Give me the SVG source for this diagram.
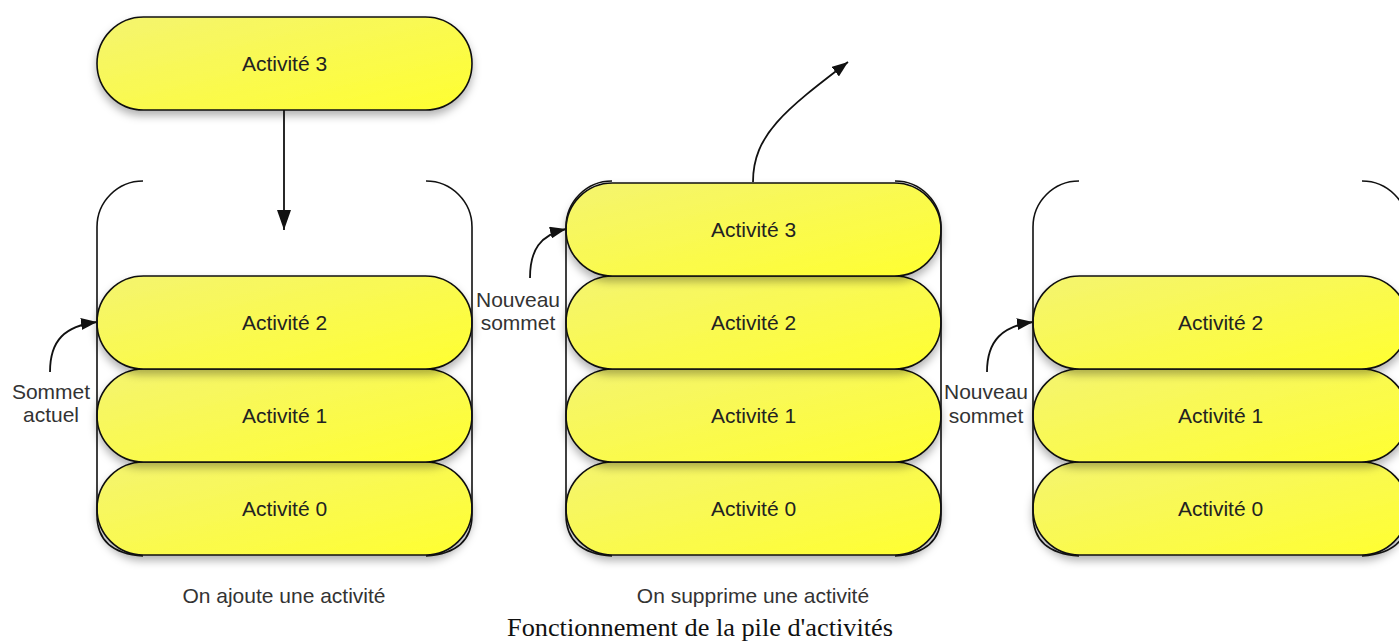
<svg xmlns="http://www.w3.org/2000/svg" width="1399" height="641" viewBox="0 0 1399 641">
<style>
.pill{fill:url(#yg);stroke:#111;stroke-width:1.6;filter:url(#sh)}
.pt{font-family:"Liberation Sans",Arial,sans-serif;font-size:21px;fill:#222;text-anchor:middle}
.lbl{font-family:"Liberation Sans",Arial,sans-serif;font-size:21px;fill:#333;text-anchor:middle}
.br{fill:none;stroke:#111;stroke-width:1.6}
.ar{fill:none;stroke:#111;stroke-width:1.8}
.cap{font-family:"Liberation Serif","Times New Roman",serif;font-size:25px;fill:#111;text-anchor:middle}
</style>
<defs>
<linearGradient id="yg" x1="0" y1="0" x2="1" y2="1">
<stop offset="0" stop-color="#f4f470"/>
<stop offset="1" stop-color="#ffff30"/>
</linearGradient>
<filter id="sh" x="-10%" y="-20%" width="120%" height="150%">
<feDropShadow dx="0" dy="5" stdDeviation="4" flood-color="#000" flood-opacity="0.3"/>
</filter>
<marker id="ah" markerWidth="20" markerHeight="14" refX="20" refY="7" orient="auto" markerUnits="userSpaceOnUse">
<path d="M0,0 L20,7 L0,14 Z" fill="#111"/>
</marker>
<marker id="ahs" markerWidth="16" markerHeight="12" refX="16" refY="6" orient="auto" markerUnits="userSpaceOnUse">
<path d="M0,0 L16,6 L0,12 Z" fill="#111"/>
</marker>
</defs>
<rect width="1399" height="641" fill="#fff"/>

<g id="top-act3"><rect class="pill" x="97" y="17" width="375" height="93" rx="46.5"/><text class="pt" x="284.5" y="71">Activité 3</text></g>

<g id="stack1">
<g id="s1-act0"><rect class="pill" x="97" y="462" width="375" height="93" rx="46.5"/><text class="pt" x="284.5" y="516">Activité 0</text></g>
<g id="s1-act1"><rect class="pill" x="97" y="369" width="375" height="93" rx="46.5"/><text class="pt" x="284.5" y="423">Activité 1</text></g>
<g id="s1-act2"><rect class="pill" x="97" y="276" width="375" height="93" rx="46.5"/><text class="pt" x="284.5" y="330">Activité 2</text></g>
<path class="br" d="M143,181 A46,46 0 0 0 97,227 L97,515 Q97,553 143,556"/>
<path class="br" d="M426,181 A46,46 0 0 1 472,227 L472,515 Q472,553 426,556"/>
</g>

<g id="stack2">
<g id="s2-act0"><rect class="pill" x="566" y="462" width="375" height="93" rx="46.5"/><text class="pt" x="753.5" y="516">Activité 0</text></g>
<g id="s2-act1"><rect class="pill" x="566" y="369" width="375" height="93" rx="46.5"/><text class="pt" x="753.5" y="423">Activité 1</text></g>
<g id="s2-act2"><rect class="pill" x="566" y="276" width="375" height="93" rx="46.5"/><text class="pt" x="753.5" y="330">Activité 2</text></g>
<g id="s2-act3"><rect class="pill" x="566" y="183" width="375" height="93" rx="46.5"/><text class="pt" x="753.5" y="237">Activité 3</text></g>
<path class="br" d="M612,181 A46,46 0 0 0 566,227 L566,515 Q566,553 612,556"/>
<path class="br" d="M895,181 A46,46 0 0 1 941,227 L941,515 Q941,553 895,556"/>
</g>

<g id="stack3">
<g id="s3-act0"><rect class="pill" x="1033" y="462" width="375" height="93" rx="46.5"/><text class="pt" x="1220.5" y="516">Activité 0</text></g>
<g id="s3-act1"><rect class="pill" x="1033" y="369" width="375" height="93" rx="46.5"/><text class="pt" x="1220.5" y="423">Activité 1</text></g>
<g id="s3-act2"><rect class="pill" x="1033" y="276" width="375" height="93" rx="46.5"/><text class="pt" x="1220.5" y="330">Activité 2</text></g>
<path class="br" d="M1079,181 A46,46 0 0 0 1033,227 L1033,515 Q1033,553 1079,556"/>
<path class="br" d="M1362,181 A46,46 0 0 1 1408,227 L1408,515 Q1408,553 1362,556"/>
</g>

<g id="connectors">
<path class="ar" d="M284,110 L284,230" marker-end="url(#ah)"/>
<path class="ar" d="M753,182 C753,135 785,110 848,62" marker-end="url(#ahs)"/>
<path class="ar" d="M50,372 C50,340 65,326 97,322" marker-end="url(#ahs)"/>
<path class="ar" d="M530,278 C530,250 540,235 566,229" marker-end="url(#ahs)"/>
<path class="ar" d="M987,372 C987,340 1003,326 1033,322" marker-end="url(#ahs)"/>
</g>

<g id="labels">
<text class="lbl" x="51" y="399">Sommet</text>
<text class="lbl" x="51" y="422">actuel</text>
<text class="lbl" x="518" y="307">Nouveau</text>
<text class="lbl" x="518" y="330">sommet</text>
<text class="lbl" x="986" y="399">Nouveau</text>
<text class="lbl" x="986" y="423">sommet</text>
<text class="lbl" x="284" y="603">On ajoute une activité</text>
<text class="lbl" x="753" y="603">On supprime une activité</text>
<text class="cap" x="700" y="636" textLength="386" lengthAdjust="spacingAndGlyphs">Fonctionnement de la pile d'activités</text>
</g>
</svg>
